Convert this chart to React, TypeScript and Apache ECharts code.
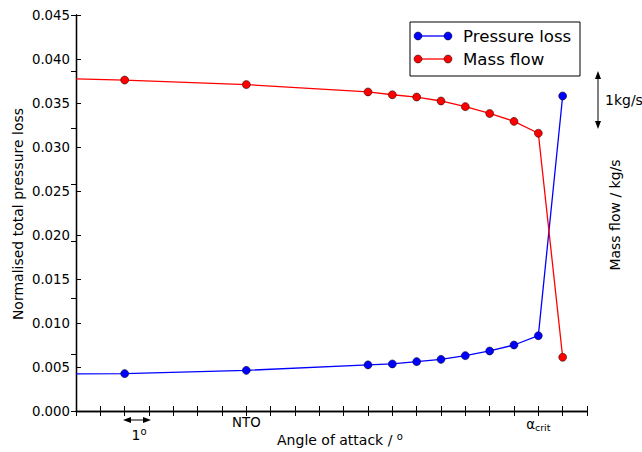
import React, { useEffect, useRef } from "react";
import * as echarts from "echarts";

// Angle of attack positions (degrees from axis start); first entry is the line start at the frame edge (no marker)
const angles = [0, 2, 7, 12, 13, 14, 15, 16, 17, 18, 19, 20];
const pressureLoss = [0.00423, 0.00425, 0.00462, 0.00524, 0.00535, 0.00561, 0.00587, 0.00629, 0.00682, 0.0075, 0.00856, 0.0358];
const massFlow = [5.87, 5.85, 5.77, 5.64, 5.59, 5.55, 5.48, 5.38, 5.26, 5.12, 4.91, 0.95];
const markerShown = [false, true, true, true, true, true, true, true, true, true, true, true];
const xTickLabels: Record<number, string> = { 7: "NTO", 19: "{a|α}{s|crit}" };
const leftTicks = { min: 0, max: 0.045, interval: 0.005 };
const rightTicks = { min: 0, max: 7, interval: 1 };
const xTicks = { min: 0, max: 21, interval: 1 };

const FONT = "DejaVu Sans";
const TICK_FS = 13.3;
const NAME_FS = 14;

export default function App() {
  const ref = useRef<HTMLDivElement>(null);
  useEffect(() => {
    document.body.style.margin = "0";
    const chart = echarts.init(ref.current!, null, { renderer: "svg" });
    const mk = (vals: number[]) =>
      angles.map((a, i) => ({
        value: [a, vals[i]],
        symbol: markerShown[i] ? "circle" : "none",
      }));
    const axisLine = { show: true, lineStyle: { color: "#000", width: 1.3 } };
    const tick = { show: true, inside: true, length: 5, lineStyle: { color: "#000", width: 1 } };
    chart.setOption({
      animation: false,
      backgroundColor: "#fff",
      grid: { left: 76, top: 15, width: 511, height: 396, containLabel: false },
      xAxis: [
        {
          type: "value",
          ...xTicks,
          position: "bottom",
          axisLine,
          axisTick: tick,
          splitLine: { show: false },
          axisLabel: {
            show: true,
            margin: 5,
            color: "#000",
            fontFamily: FONT,
            fontSize: TICK_FS,
            formatter: (v: number) => xTickLabels[v] ?? "",
            rich: {
              a: { fontFamily: FONT, fontSize: TICK_FS, color: "#000" },
              s: { fontFamily: FONT, fontSize: 9.5, color: "#000", padding: [6, 0, 0, 0] },
            },
          },
        },
        {
          type: "value",
          ...xTicks,
          position: "top",
          axisLine,
          axisTick: tick,
          splitLine: { show: false },
          axisLabel: { show: false },
        },
      ],
      yAxis: [
        {
          type: "value",
          ...leftTicks,
          position: "left",
          axisLine,
          axisTick: tick,
          splitLine: { show: false },
          axisLabel: {
            margin: 6,
            color: "#000",
            fontFamily: FONT,
            fontSize: TICK_FS,
            formatter: (v: number) => v.toFixed(3),
          },
        },
        {
          type: "value",
          ...rightTicks,
          position: "right",
          axisLine,
          axisTick: tick,
          splitLine: { show: false },
          axisLabel: { show: false },
        },
      ],
      series: [
        {
          name: "Pressure loss",
          type: "line",
          xAxisIndex: 0,
          yAxisIndex: 0,
          data: mk(pressureLoss),
          symbolSize: 8,
          lineStyle: { color: "#0000ff", width: 1.3 },
          itemStyle: { color: "#0000ff", borderColor: "#000", borderWidth: 0.5 },
        },
        {
          name: "Mass flow",
          type: "line",
          xAxisIndex: 0,
          yAxisIndex: 1,
          data: mk(massFlow),
          symbolSize: 8,
          lineStyle: { color: "#ff0000", width: 1.3 },
          itemStyle: { color: "#ff0000", borderColor: "#000", borderWidth: 0.5 },
        },
      ],
      graphic: [
        // axis names
        {
          type: "text",
          x: 18,
          y: 214,
          rotation: Math.PI / 2,
          style: {
            text: "Normalised total pressure loss",
            fill: "#000",
            font: `${NAME_FS}px '${FONT}'`,
            textAlign: "center",
            textVerticalAlign: "middle",
            align: "center",
            verticalAlign: "middle",
          },
        },
        {
          type: "text",
          x: 615,
          y: 215,
          rotation: Math.PI / 2,
          style: {
            text: "Mass flow / kg/s",
            fill: "#000",
            font: `${NAME_FS}px '${FONT}'`,
            textAlign: "center",
            textVerticalAlign: "middle",
            align: "center",
            verticalAlign: "middle",
          },
        },
        {
          type: "text",
          x: 340,
          y: 440,
          style: {
            text: "Angle of attack / {sup|o}",
            fill: "#000",
            font: `${NAME_FS}px '${FONT}'`,
            textAlign: "center",
            textVerticalAlign: "middle",
            align: "center",
            verticalAlign: "middle",
            rich: { sup: { fontFamily: FONT, fontSize: 10, fill: "#000", padding: [0, 0, 7, 0] } },
          },
        },
        // 1 kg/s scale arrow
        { type: "line", shape: { x1: 598, y1: 76, x2: 598, y2: 124 }, style: { stroke: "#000", lineWidth: 1 } },
        { type: "polygon", shape: { points: [[598, 71], [595, 79], [601, 79]] }, style: { fill: "#000" } },
        { type: "polygon", shape: { points: [[598, 129], [595, 121], [601, 121]] }, style: { fill: "#000" } },
        {
          type: "text",
          x: 605,
          y: 100,
          style: { text: "1kg/s", fill: "#000", font: `${NAME_FS}px '${FONT}'`, textVerticalAlign: "middle", verticalAlign: "middle" },
        },
        // 1 degree scale arrow
        { type: "line", shape: { x1: 128, y1: 420, x2: 146, y2: 420 }, style: { stroke: "#000", lineWidth: 1 } },
        { type: "polygon", shape: { points: [[123, 420], [131, 417], [131, 423]] }, style: { fill: "#000" } },
        { type: "polygon", shape: { points: [[151, 420], [143, 417], [143, 423]] }, style: { fill: "#000" } },
        {
          type: "text",
          x: 139,
          y: 435,
          style: {
            text: "1{sup|o}",
            fill: "#000",
            font: `${NAME_FS}px '${FONT}'`,
            textAlign: "center",
            textVerticalAlign: "middle",
            align: "center",
            verticalAlign: "middle",
            rich: { sup: { fontFamily: FONT, fontSize: 10, fill: "#000", padding: [0, 0, 7, 0] } },
          },
        },
        // legend
        {
          type: "group",
          z: 100,
          children: [
            { type: "rect", shape: { x: 410, y: 22, width: 170, height: 54 }, style: { fill: "#fff", stroke: "#000", lineWidth: 1 } },
            { type: "line", shape: { x1: 418, y1: 36, x2: 448, y2: 36 }, style: { stroke: "#0000ff", lineWidth: 1.3 } },
            { type: "circle", shape: { cx: 418, cy: 36, r: 4 }, style: { fill: "#0000ff", stroke: "#000", lineWidth: 0.5 } },
            { type: "circle", shape: { cx: 448, cy: 36, r: 4 }, style: { fill: "#0000ff", stroke: "#000", lineWidth: 0.5 } },
            {
              type: "text",
              x: 463,
              y: 36,
              style: { text: "Pressure loss", fill: "#000", font: `16.6px '${FONT}'`, textVerticalAlign: "middle", verticalAlign: "middle" },
            },
            { type: "line", shape: { x1: 418, y1: 59, x2: 448, y2: 59 }, style: { stroke: "#ff0000", lineWidth: 1.3 } },
            { type: "circle", shape: { cx: 418, cy: 59, r: 4 }, style: { fill: "#ff0000", stroke: "#000", lineWidth: 0.5 } },
            { type: "circle", shape: { cx: 448, cy: 59, r: 4 }, style: { fill: "#ff0000", stroke: "#000", lineWidth: 0.5 } },
            {
              type: "text",
              x: 463,
              y: 59,
              style: { text: "Mass flow", fill: "#000", font: `16.6px '${FONT}'`, textVerticalAlign: "middle", verticalAlign: "middle" },
            },
          ],
        },
      ],
    });
    return () => chart.dispose();
  }, []);
  return <div ref={ref} style={{ width: 642, height: 452 }} />;
}
